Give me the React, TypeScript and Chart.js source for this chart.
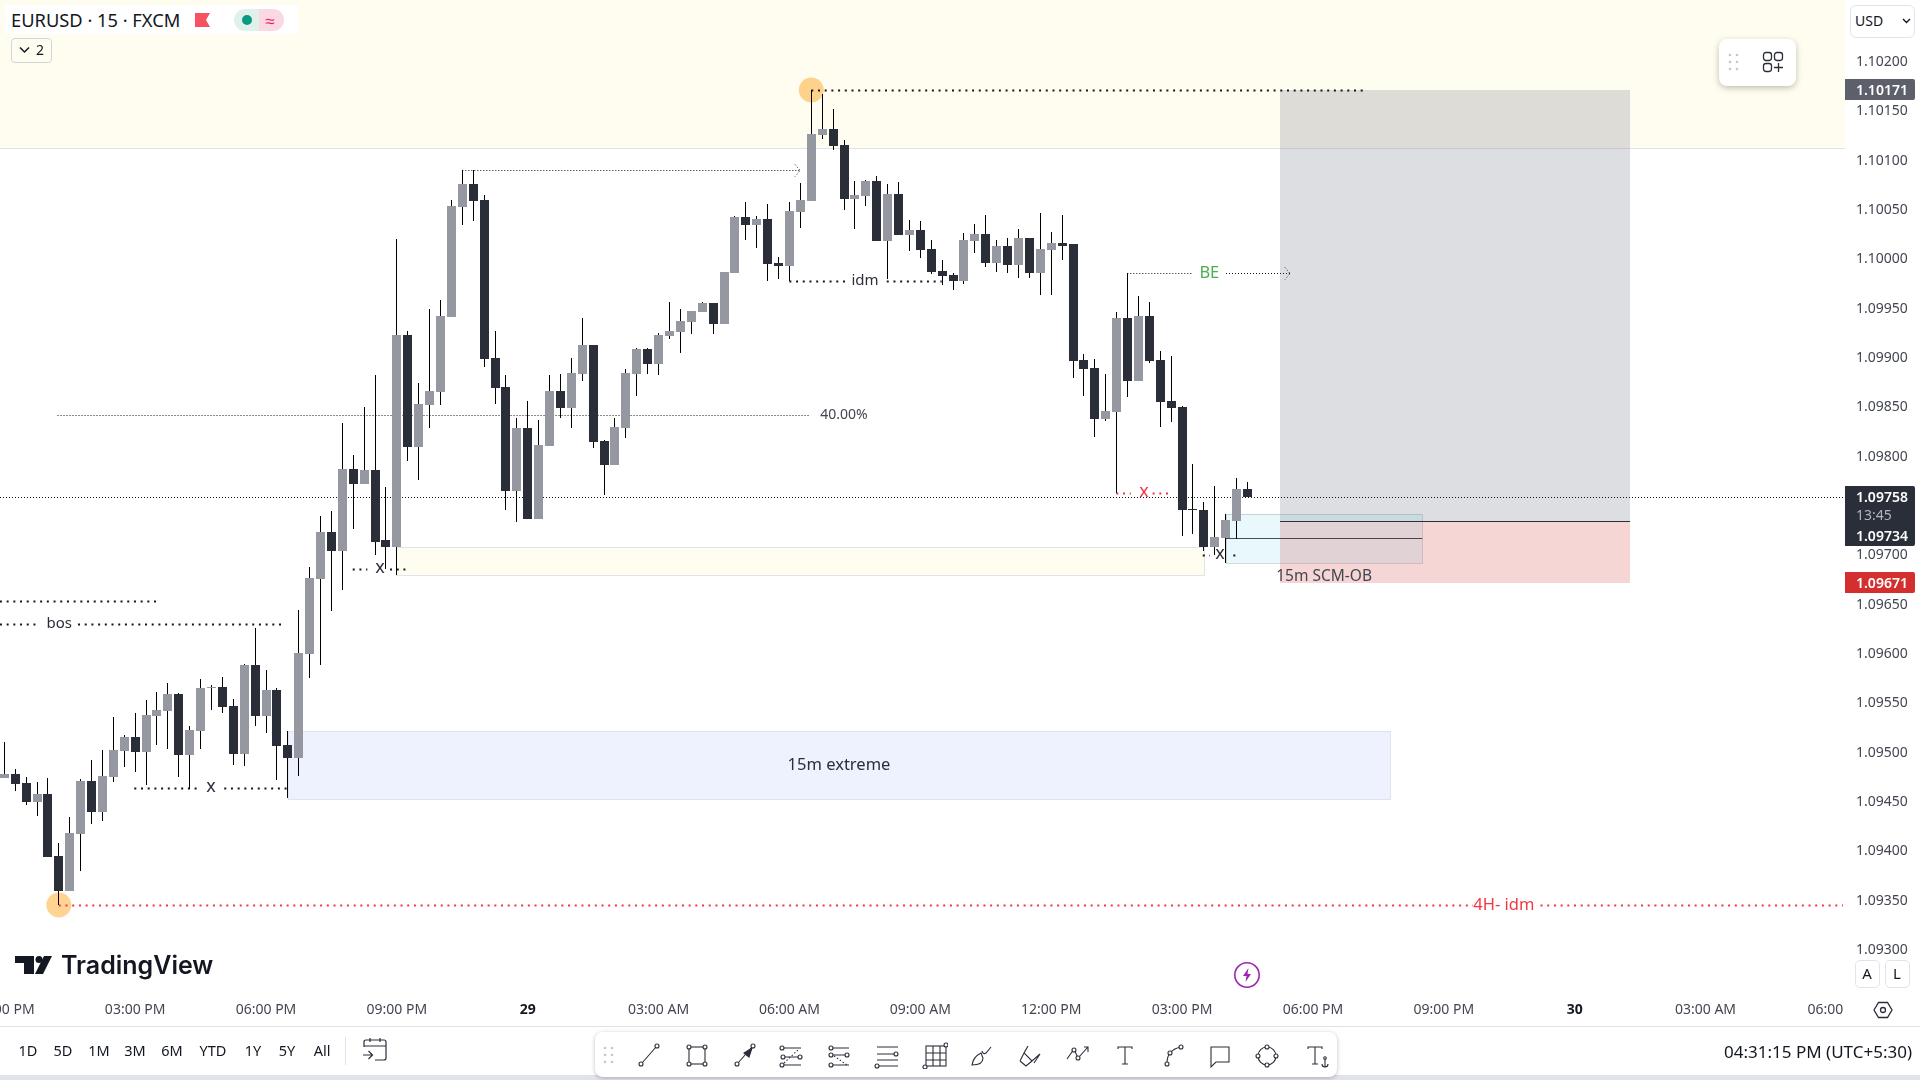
import React, { useEffect, useRef } from "react";
import { Chart, registerables } from "chart.js";

Chart.register(...registerables);

const opens = [
  1.09473,1.09477,1.09468,1.09449,1.09457,1.09394,1.09359,1.09417,1.09470,1.09439,
  1.09474,1.09501,1.09515,1.09500,1.09536,1.09541,1.09558,1.09497,1.09521,1.09564,
  1.09565,1.09546,1.09498,1.09588,1.09536,1.09562,1.09507,1.09494,1.09599,1.09675,
  1.09723,1.09703,1.09786,1.09771,1.09785,1.09714,1.09707,1.09922,1.09809,1.09851,
  1.09865,1.09941,1.10052,1.10075,1.10059,1.09899,1.09870,1.09764,1.09828,1.09736,
  1.09810,1.09866,1.09848,1.09883,1.09912,1.09815,1.09791,1.09828,1.09883,1.09908,
  1.09893,1.09921,1.09925,1.09935,1.09946,1.09955,1.09933,1.09985,1.10042,1.10034,
  1.10040,1.09995,1.09992,1.10047,1.10058,1.10125,1.10131,1.10115,1.10060,1.10063,
  1.10078,1.10018,1.10065,1.10024,1.10029,1.10009,1.09987,1.09983,1.09977,1.10018,
  1.10025,1.09995,1.10012,1.09993,1.10021,1.09985,1.10008,1.10016,1.10014,1.09897,
  1.09889,1.09837,1.09844,1.09940,1.09876,1.09942,1.09897,1.09855,1.09849,1.09746,
  1.09745,1.09707,1.09717,1.09734,1.09766,
];
const highs = [
  1.09510,1.09482,1.09474,1.09469,1.09473,1.09407,1.09434,1.09472,1.09492,1.09502,
  1.09535,1.09517,1.09539,1.09552,1.09560,1.09570,1.09559,1.09526,1.09574,1.09568,
  1.09576,1.09553,1.09589,1.09625,1.09583,1.09564,1.09521,1.09644,1.09687,1.09739,
  1.09744,1.09833,1.09801,1.09849,1.09882,1.09768,1.10020,1.09926,1.09874,1.09949,
  1.09958,1.10059,1.10090,1.10089,1.10064,1.09926,1.09882,1.09838,1.09855,1.09836,
  1.09882,1.09883,1.09899,1.09939,1.09912,1.09816,1.09838,1.09888,1.09909,1.09909,
  1.09924,1.09956,1.09949,1.09947,1.09956,1.09955,1.09986,1.10043,1.10057,1.10043,
  1.10055,1.10001,1.10057,1.10076,1.10171,1.10167,1.10151,1.10120,1.10078,1.10079,
  1.10083,1.10075,1.10077,1.10039,1.10038,1.10019,1.09998,1.09985,1.10026,1.10035,
  1.10044,1.10019,1.10021,1.10030,1.10021,1.10046,1.10027,1.10044,1.10014,1.09903,
  1.09898,1.09883,1.09946,1.09985,1.09962,1.09956,1.09906,1.09901,1.09850,1.09792,
  1.09753,1.09769,1.09741,1.09777,1.09773,
];
const lows = [
  1.09473,1.09460,1.09446,1.09435,1.09393,1.09345,1.09359,1.09379,1.09427,1.09430,
  1.09469,1.09484,1.09479,1.09466,1.09507,1.09503,1.09474,1.09462,1.09503,1.09542,
  1.09539,1.09486,1.09485,1.09526,1.09519,1.09471,1.09453,1.09475,1.09575,1.09588,
  1.09643,1.09664,1.09726,1.09771,1.09699,1.09685,1.09679,1.09795,1.09775,1.09828,
  1.09851,1.09941,1.10034,1.10038,1.09890,1.09852,1.09745,1.09733,1.09736,1.09736,
  1.09810,1.09838,1.09828,1.09876,1.09808,1.09760,1.09790,1.09818,1.09860,1.09883,
  1.09882,1.09918,1.09904,1.09923,1.09946,1.09923,1.09933,1.09985,1.10019,1.10010,
  1.09977,1.09979,1.09977,1.10031,1.10058,1.10121,1.10110,1.10049,1.10030,1.10053,
  1.10018,1.09979,1.10024,1.10007,1.10000,1.09984,1.09973,1.09968,1.09974,1.10005,
  1.09991,1.09986,1.09985,1.09980,1.09980,1.09963,1.09963,1.09998,1.09879,1.09860,
  1.09819,1.09835,1.09762,1.09859,1.09876,1.09894,1.09829,1.09834,1.09719,1.09721,
  1.09703,1.09699,1.09691,1.09715,1.09758,
];
const closes = [
  1.09477,1.09467,1.09449,1.09457,1.09393,1.09359,1.09418,1.09470,1.09439,1.09475,
  1.09502,1.09515,1.09500,1.09537,1.09542,1.09558,1.09497,1.09522,1.09564,1.09565,
  1.09545,1.09498,1.09588,1.09536,1.09562,1.09506,1.09494,1.09600,1.09676,1.09723,
  1.09703,1.09786,1.09771,1.09785,1.09712,1.09707,1.09922,1.09809,1.09852,1.09866,
  1.09942,1.10053,1.10075,1.10058,1.09898,1.09869,1.09764,1.09828,1.09736,1.09811,
  1.09866,1.09848,1.09884,1.09912,1.09814,1.09791,1.09829,1.09884,1.09908,1.09893,
  1.09922,1.09926,1.09936,1.09947,1.09955,1.09933,1.09986,1.10042,1.10034,1.10040,
  1.09994,1.09992,1.10048,1.10059,1.10126,1.10131,1.10114,1.10060,1.10064,1.10078,
  1.10018,1.10065,1.10024,1.10029,1.10008,1.09986,1.09982,1.09977,1.10019,1.10025,
  1.09995,1.10012,1.09993,1.10021,1.09985,1.10009,1.10016,1.10012,1.09896,1.09888,
  1.09837,1.09845,1.09940,1.09876,1.09942,1.09896,1.09854,1.09848,1.09745,1.09745,
  1.09707,1.09718,1.09735,1.09766,1.09758,
];

const priceTicks = [1.093,1.0935,1.094,1.0945,1.095,1.0955,1.096,1.0965,1.097,1.0975,1.098,1.0985,1.099,1.0995,1.1,1.1005,1.101,1.1015,1.102];
const timeTickBars = [0,12,24,36,48,60,72,84,96,108,120,132,144,156,167];
const timeTickLabels = ["12:00 PM","03:00 PM","06:00 PM","09:00 PM","29","03:00 AM","06:00 AM","09:00 AM","12:00 PM","03:00 PM","06:00 PM","09:00 PM","30","03:00 AM","06:00"];
const boldTimeBars = [48,144];

// Drawing tool values, all in [bar index, price]
const topBand = { from: -0.4, to: 168.8, low: 1.10112 };
const targetZone = { from: 116.98, to: 149.08, high: 1.10171, low: 1.09734 };
const stopZone = { from: 116.98, to: 149.08, high: 1.09734, low: 1.09671 };
const boxes = [
  { kind: "yellow", from: 35.95, to: 110.04, high: 1.09707, low: 1.09679 },
  { kind: "blue", from: 25.97, to: 127.07, high: 1.09521, low: 1.09452 },
  { kind: "cyan", from: 112.03, to: 130.03, high: 1.09741, low: 1.09691 },
];
const solidLines = [
  { from: 116.98, to: 149.08, price: 1.09734 },
  { from: 112.03, to: 130.03, price: 1.09717 },
];
const boldDotted = [
  { from: 74, to: 124.78, price: 1.10171, kind: "black" },
  { from: 71.99, to: 77.09, price: 1.09977, kind: "black" },
  { from: 80.92, to: 85.96, price: 1.09977, kind: "black" },
  { from: 101.97, to: 103.3, price: 1.09762, kind: "red" },
  { from: 105.3, to: 106.96, price: 1.09762, kind: "red" },
  { from: 109.9, to: 110.56, price: 1.09699, kind: "black" },
  { from: 112.7, to: 112.95, price: 1.09699, kind: "black" },
  { from: 31.95, to: 33.29, price: 1.09685, kind: "black" },
  { from: 35.37, to: 37.05, price: 1.09685, kind: "black" },
  { from: -0.4, to: 13.98, price: 1.09653, kind: "black" },
  { from: -0.4, to: 3.15, price: 1.09629, kind: "black" },
  { from: 6.76, to: 25.68, price: 1.09629, kind: "black" },
  { from: 11.92, to: 18.04, price: 1.09463, kind: "black" },
  { from: 20.17, to: 25.95, price: 1.09463, kind: "black" },
  { from: 5, to: 134.68, price: 1.09345, kind: "red" },
  { from: 140.87, to: 168.6, price: 1.09345, kind: "red" },
];
const thinDotted = [
  { from: 42, to: 72.97, price: 1.1009, arrow: true },
  { from: 4.88, to: 73.82, price: 1.09841, arrow: false },
  { from: 102.98, to: 108.89, price: 1.09985, arrow: false },
  { from: 112.03, to: 117.9, price: 1.09985, arrow: true },
];
const notes = [
  { text: "bos", bar: 5.04, price: 1.09629, kind: "black" },
  { text: "x", bar: 18.95, price: 1.09463, kind: "black" },
  { text: "x", bar: 34.45, price: 1.09685, kind: "black" },
  { text: "idm", bar: 78.92, price: 1.09977, kind: "black" },
  { text: "40.00%", bar: 77, price: 1.09841, kind: "grey" },
  { text: "BE", bar: 110.5, price: 1.09985, kind: "green" },
  { text: "x", bar: 104.5, price: 1.09762, kind: "red" },
  { text: "x", bar: 111.48, price: 1.09699, kind: "black" },
  { text: "15m SCM-OB", bar: 121.02, price: 1.09677, kind: "grey" },
  { text: "15m extreme", bar: 76.54, price: 1.09486, kind: "black" },
  { text: "4H- idm", bar: 137.5, price: 1.09345, kind: "red" },
];
const markers = [
  { bar: 5, price: 1.09345 },
  { bar: 74, price: 1.10171 },
];
const lastPrice = 1.09758;

const FONT = '"Noto Sans", sans-serif';
const BULL = "#9598a1";
const BEAR = "#2a2e39";
const WICK = "#000000";
const TEXT = "#434651";
const noteSize: any = { x: 18, "40.00%": 14, BE: 16.5, "15m SCM-OB": 15.5, "15m extreme": 16.5, "4H- idm": 16.5 };

const noPadding = (s: any) => {
  s.paddingLeft = 0;
  s.paddingRight = 0;
  s.paddingTop = 0;
  s.paddingBottom = 0;
};

const snapPlugin = {
  id: "snap",
  afterDatasetsUpdate(chart: any) {
    const xs = chart.scales.x;
    chart.data.datasets.forEach((ds: any, d: number) => {
      const wide = ds.label === "Bodies" ? 9 : 1;
      chart.getDatasetMeta(d).data.forEach((el: any, i: number) => {
        const col = Math.floor(xs.getPixelForValue(ds.data[i].x));
        const top = Math.round(Math.min(el.y, el.base));
        const bottom = Math.max(top + 1, Math.round(Math.max(el.y, el.base)));
        el.x = col + 0.5;
        el.width = wide;
        el.y = top;
        el.base = bottom;
        el.height = bottom - top;
      });
    });
  },
};

const drawingPlugin = {
  id: "drawings",
  beforeDatasetsDraw(chart: any) {
    const { ctx, scales, chartArea } = chart;
    const X = (v: number) => scales.x.getPixelForValue(v);
    const Y = (v: number) => Math.round(scales.y.getPixelForValue(v));
    ctx.save();

    // premium band
    ctx.fillStyle = "#fffdf0";
    ctx.fillRect(X(topBand.from), chartArea.top, X(topBand.to) - X(topBand.from), Y(topBand.low));
    ctx.fillStyle = "#e0e3eb";
    ctx.fillRect(X(topBand.from), Y(topBand.low), X(topBand.to) - X(topBand.from), 1);

    // position tool
    ctx.fillStyle = "rgba(120,123,134,0.25)";
    ctx.fillRect(X(targetZone.from), Y(targetZone.high), X(targetZone.to) - X(targetZone.from), Y(targetZone.low) - Y(targetZone.high));
    ctx.fillStyle = "rgba(211,47,47,0.2)";
    ctx.fillRect(X(stopZone.from), Y(stopZone.high), X(stopZone.to) - X(stopZone.from), Y(stopZone.low) - Y(stopZone.high));

    // boxes
    const boxStyle: any = {
      yellow: ["#fffdf0", "#e0e3eb"],
      blue: ["#eef2fe", "#e0e3eb"],
      cyan: ["rgba(0,188,212,0.085)", "rgba(120,123,134,0.3)"],
    };
    boxes.forEach((b) => {
      const x1 = Math.round(X(b.from)), x2 = Math.round(X(b.to));
      const y1 = Y(b.high), y2 = Y(b.low);
      ctx.fillStyle = boxStyle[b.kind][0];
      ctx.fillRect(x1, y1, x2 - x1, y2 - y1);
      ctx.strokeStyle = boxStyle[b.kind][1];
      ctx.lineWidth = 1;
      ctx.strokeRect(x1 + 0.5, y1 + 0.5, x2 - x1, y2 - y1);
    });

    // solid lines
    ctx.lineWidth = 1;
    solidLines.forEach((l, i) => {
      ctx.strokeStyle = i === 0 ? "#2a2e39" : "rgba(42,46,57,0.85)";
      const y = Y(l.price) + 0.5;
      ctx.beginPath();
      ctx.moveTo(X(l.from), y);
      ctx.lineTo(X(l.to), y);
      ctx.stroke();
    });

    // orange markers
    markers.forEach((m) => {
      ctx.fillStyle = "rgba(255,167,38,0.5)";
      ctx.beginPath();
      ctx.arc(X(m.bar), Y(m.price), 12.5, 0, Math.PI * 2);
      ctx.fill();
    });

    // last price line
    ctx.setLineDash([1, 2]);
    ctx.lineWidth = 1;
    ctx.strokeStyle = "#131722";
    const ly = Y(lastPrice) + 0.5;
    ctx.beginPath();
    ctx.moveTo(chartArea.left, ly);
    ctx.lineTo(chartArea.right, ly);
    ctx.stroke();

    // thin dotted rays
    thinDotted.forEach((l) => {
      const y = Y(l.price) + 0.5;
      const x2 = X(l.to);
      ctx.strokeStyle = "#131722";
      ctx.beginPath();
      ctx.moveTo(X(l.from), y);
      ctx.lineTo(x2, y);
      if (l.arrow) {
        ctx.moveTo(x2 - 5, y - 6);
        ctx.lineTo(x2, y);
        ctx.lineTo(x2 - 5, y + 6);
      }
      ctx.stroke();
    });

    // bold dotted lines
    ctx.setLineDash([2, 4.7]);
    ctx.lineWidth = 2;
    boldDotted.forEach((l) => {
      const y = Y(l.price) + 0.5;
      ctx.strokeStyle = l.kind === "red" ? "#f23645" : "#131722";
      ctx.beginPath();
      ctx.moveTo(X(l.from), y);
      ctx.lineTo(X(l.to), y);
      ctx.stroke();
    });
    ctx.setLineDash([]);

    // notes
    const noteColor: any = { black: "#2a2e39", grey: TEXT, green: "#4caf50", red: "#f23645" };
    ctx.textAlign = "center";
    ctx.textBaseline = "middle";
    notes.forEach((n) => {
      ctx.fillStyle = noteColor[n.kind];
      ctx.font = `${noteSize[n.text] ?? 15}px ${FONT}`;
      ctx.fillText(n.text, X(n.bar), Y(n.price) - (n.text === "x" ? 1 : 0));
    });
    ctx.restore();
  },
  afterDraw(chart: any) {
    const { ctx, scales } = chart;
    const Y = (v: number) => Math.round(scales.y.getPixelForValue(v));
    const tag = (y1: number, y2: number, bg: string) => {
      ctx.fillStyle = bg;
      ctx.beginPath();
      ctx.roundRect(1845, y1, 70, y2 - y1, [0, 2, 2, 0]);
      ctx.fill();
    };
    ctx.save();
    ctx.textAlign = "left";
    ctx.textBaseline = "middle";
    const label = (t: string, y: number, c: string, w = "600") => {
      ctx.fillStyle = c;
      ctx.font = `${w} 14px ${FONT}`;
      ctx.fillText(t, 1856, y);
    };
    const high = highs[74];
    tag(Y(high) - 11, Y(high) + 10, "#5d606b");
    label(high.toFixed(5), Y(high) + 1, "#ffffff");
    const last = closes[closes.length - 1];
    tag(Y(last) - 11, Y(last) + 49, "#2a2e39");
    label(last.toFixed(5), Y(last) + 1, "#ffffff");
    label("13:45", Y(last) + 19, "#b2b5be", "400");
    label((1.09734).toFixed(5), Y(last) + 40, "#ffffff");
    const stop = stopZone.low;
    tag(Y(stop) - 11, Y(stop) + 10, "#d32f2f");
    label(stop.toFixed(5), Y(stop) + 1, "#ffffff");
    ctx.restore();
  },
};

const Txt = ({ x, y, size = 14, color = "#131722", weight = 400, align = "center", family = FONT, children }: any) => (
  <div
    style={{
      position: "absolute",
      left: x,
      top: y,
      transform: `translate(${align === "center" ? "-50%" : align === "right" ? "-100%" : "0"},-50%)`,
      font: `${weight} ${size}px ${family}`,
      lineHeight: 1,
      color,
      whiteSpace: "nowrap",
    }}
  >
    {children}
  </div>
);

const Ico = ({ x, y, size = 28, children }: any) => (
  <svg
    width={size}
    height={size}
    viewBox="0 0 28 28"
    style={{ position: "absolute", left: x - size / 2, top: y - size / 2 }}
    fill="none"
    stroke="#2a2e39"
    strokeWidth={1.1}
  >
    {children}
  </svg>
);

const Dot = ({ x, y }: any) => <circle cx={x} cy={y} r={2} fill="#fff" />;
const Dots = ({ x, y }: any) => (
  <svg width="14" height="18" style={{ position: "absolute", left: x - 7, top: y - 9 }}>
    {[2, 9, 16].map((cy) => [3, 10].map((cx) => <circle key={`${cx}-${cy}`} cx={cx} cy={cy} r="1.3" fill="#c4c7d1" />))}
  </svg>
);

const toolIcons: any[] = [
  <><path d="M7 22 21 6" /><Dot x={6} y={23} /><Dot x={22} y={5} /></>,
  <><rect x="6" y="6" width="16" height="17" /><Dot x={6} y={6} /><Dot x={22} y={6} /><Dot x={6} y={23} /><Dot x={22} y={23} /></>,
  <><path d="M7 22 21 6" /><path d="M21 7 18 16 13 12Z" fill="#2a2e39" /><Dot x={6} y={23} /><Dot x={22} y={5} /></>,
  <><path d="M5 7H24M7 16H22M5 24H24" /><path d="M7 22 22 8" strokeDasharray="1.5 2" /><Dot x={5} y={7} /><Dot x={6} y={16} /><Dot x={23} y={16} /><Dot x={5} y={24} /></>,
  <><path d="M7 7H24M7 14H22M7 24H24" /><path d="M9 15 22 24" strokeDasharray="1.5 2" /><Dot x={6} y={7} /><Dot x={6} y={14} /><Dot x={22} y={14} /><Dot x={6} y={24} /></>,
  <><path d="M4 6H25M4 13H22M4 19H25M4 25H25" /><Dot x={23} y={13} /><Dot x={4} y={25} /></>,
  <><rect x="6" y="5" width="20" height="20" /><path d="M13 5V25M20 5V25M6 12H26M6 19H26" /><Dot x={26} y={4} /><Dot x={5} y={26} /></>,
  <><path d="M4 24C5 17 9 14 13 12L15 17C15 22 11 24 4 24Z" /><path d="M14 10C15 13 16 13 18 12L23 6" /></>,
  <><path d="M12 5 8 12 16 20 24 13 18 22M4 20 8 12M4 20 10 25 16 20" /></>,
  <><path d="M3 18 10 8 14 17 24 6M20 6H24V11" /><Dot x={10} y={9} /><Dot x={14} y={17} /></>,
  <><path d="M7 8V6H21V8M14 6V23M11 23H17" /></>,
  <><path d="M8 22C8 14 12 8 22 6" /><Dot x={8} y={23} /><Dot x={11} y={12} /><Dot x={22} y={6} /></>,
  <><path d="M5 6H23V21H10L5 26Z" /></>,
  <><circle cx="14" cy="15" r="9" /><Dot x={14} y={6} /><Dot x={5} y={15} /><Dot x={23} y={15} /><Dot x={14} y={24} /></>,
  <><path d="M4 8V6H18V8M11 6V23M8 23H14" /><circle cx="21" cy="17" r="1.3" /><path d="M21 18V26M18 23C18 25 19 26 21 26 23 26 24 25 24 23" /></>,
];
const toolX = [649, 697, 744.5, 791, 839, 886.5, 934, 982, 1030, 1077.6, 1125, 1173, 1220, 1267, 1317.5];
const ranges = [["1D",28],["5D",63],["1M",99],["3M",135],["6M",172],["YTD",213],["1Y",253],["5Y",287],["All",322]] as const;

export default function App() {
  const ref = useRef<HTMLCanvasElement | null>(null);

  useEffect(() => {
    document.body.style.margin = "0";
    const chart = new Chart(ref.current as HTMLCanvasElement, {
      type: "bar",
      data: {
        datasets: [
          {
            label: "Wicks",
            data: highs.map((h, i) => ({ x: i, y: [lows[i], h] })),
            backgroundColor: WICK,
            barThickness: 1,
            grouped: false,
            inflateAmount: 0,
            order: 2,
          },
          {
            label: "Bodies",
            data: opens.map((o, i) => ({ x: i, y: [Math.min(o, closes[i]), Math.max(o, closes[i])] })),
            backgroundColor: opens.map((o, i) => (closes[i] >= o ? BULL : BEAR)),
            barThickness: 9,
            grouped: false,
            inflateAmount: 0,
            order: 1,
          },
        ] as any,
      },
      options: {
        animation: false,
        responsive: false,
        maintainAspectRatio: false,
        events: [],
        layout: { autoPadding: false, padding: 0 },
        plugins: { legend: { display: false }, tooltip: { enabled: false }, title: { display: false } },
        scales: {
          x: {
            type: "linear",
            position: "bottom",
            min: -0.3943,
            max: 168.79,
            offset: false,
            grid: { display: false, drawTicks: false },
            border: { display: false },
            afterFit: (s: any) => { s.height = 90; noPadding(s); },
            afterBuildTicks: (s: any) => { s.ticks = timeTickBars.map((value) => ({ value })); },
            ticks: {
              autoSkip: false,
              maxRotation: 0,
              minRotation: 0,
              includeBounds: false,
              padding: 12,
              color: (c: any) => (boldTimeBars.includes(c.tick?.value) ? "#131722" : "#434651"),
              font: (c: any) => ({ family: FONT, size: 14, weight: boldTimeBars.includes(c.tick?.value) ? 700 : 400 }),
              callback: (_v: any, i: number) => timeTickLabels[i],
            },
          },
          y: {
            type: "linear",
            position: "right",
            min: 1.092584,
            max: 1.102618,
            grid: { display: false, drawTicks: false },
            border: { display: false },
            afterFit: (s: any) => { s.width = 75; noPadding(s); },
            afterBuildTicks: (s: any) => { s.ticks = priceTicks.map((value) => ({ value })); },
            ticks: {
              autoSkip: false,
              padding: 11,
              labelOffset: 1,
              color: "#434651",
              font: { family: FONT, size: 14 },
              callback: (v: any) => Number(v).toFixed(5),
            },
          },
        },
      } as any,
      plugins: [snapPlugin, drawingPlugin],
    });
    return () => chart.destroy();
  }, []);

  return (
    <div style={{ position: "absolute", left: 0, top: 0, width: 1920, height: 1080, overflow: "hidden", background: "#fff" }}>
      <canvas ref={ref} width={1920} height={1080} style={{ position: "absolute", left: 0, top: 0, display: "block" }} />

      {/* Legend */}
      <div style={{ position: "absolute", left: 5, top: 5, width: 293, height: 29, background: "#fff" }} />
      <Txt x={11} y={20} size={18.3} align="left">EURUSD · 15 · FXCM</Txt>
      <svg width="16" height="16" style={{ position: "absolute", left: 195, top: 12 }}>
        <path d="M0 1H15L11 8 15 15H0Z" fill="#f7525f" />
      </svg>
      <div style={{ position: "absolute", left: 234, top: 9, width: 25, height: 22, background: "#dff1ea", borderRadius: "11px 0 0 11px" }} />
      <div style={{ position: "absolute", left: 259, top: 9, width: 25, height: 22, background: "#fbd8e2", borderRadius: "0 11px 11px 0" }} />
      <div style={{ position: "absolute", left: 242, top: 15, width: 10, height: 10, background: "#089981", borderRadius: "50%" }} />
      <Txt x={270} y={20} size={17} color="#e91e63">≈</Txt>
      <div style={{ position: "absolute", left: 11, top: 38, width: 39, height: 23, border: "1px solid #d1d4dc", borderRadius: 4 }} />
      <svg width="12" height="8" style={{ position: "absolute", left: 19, top: 46 }}>
        <path d="M1 1.5 5.5 6 10 1.5" fill="none" stroke="#131722" strokeWidth="1.5" />
      </svg>
      <Txt x={40} y={50} size={14}>2</Txt>

      {/* Price axis widgets */}
      <div style={{ position: "absolute", left: 1850, top: 5, width: 63, height: 31, border: "1px solid #e0e3eb", borderRadius: 6, background: "#fff" }} />
      <Txt x={1855} y={21} size={14} align="left">USD</Txt>
      <svg width="10" height="7" style={{ position: "absolute", left: 1902, top: 18 }}>
        <path d="M1 1 4.5 4.5 8 1" fill="none" stroke="#131722" strokeWidth="1.4" />
      </svg>
      <div style={{ position: "absolute", left: 1719, top: 39, width: 77, height: 47, background: "#fff", borderRadius: 8, boxShadow: "0 2px 6px rgba(0,0,0,0.25)" }} />
      <Dots x={1734} y={62} />
      <svg width="22" height="22" style={{ position: "absolute", left: 1762, top: 51 }} fill="none" stroke="#2a2e39" strokeWidth="1.3">
        <rect x="1.5" y="1.5" width="8" height="8" rx="2.4" />
        <rect x="12.5" y="1.5" width="8" height="8" rx="2.4" />
        <rect x="1.5" y="12.5" width="8" height="8" rx="2.4" />
        <path d="M16.5 12V21M12 16.5H21" />
      </svg>

      {/* Logo */}
      <svg width="40" height="20" style={{ position: "absolute", left: 14, top: 955 }} fill="#131722">
        <path d="M1 1H20V19H10V8H1Z" />
        <circle cx="25" cy="4.5" r="3.5" />
        <path d="M30 1H38L29 19H21Z" />
      </svg>
      <Txt x={61} y={965} size={25} weight={600} align="left" family='Inter, sans-serif'>TradingView</Txt>

      {/* Lightning */}
      <svg width="28" height="28" style={{ position: "absolute", left: 1233, top: 961 }} fill="none">
        <circle cx="14" cy="14" r="12.2" stroke="#9c27b0" strokeWidth="1.6" />
        <path d="M15.5 7 10 15H13.5L12.5 21 18 13H14.5Z" fill="#9c27b0" />
      </svg>

      {/* A / L / gear */}
      <div style={{ position: "absolute", left: 1855, top: 960, width: 23, height: 26, border: "1px solid #e0e3eb", borderRadius: 5 }} />
      <div style={{ position: "absolute", left: 1885, top: 960, width: 23, height: 26, border: "1px solid #e0e3eb", borderRadius: 5 }} />
      <Txt x={1867} y={973} size={15}>A</Txt>
      <Txt x={1897} y={973} size={15}>L</Txt>
      <svg width="20" height="18" style={{ position: "absolute", left: 1873, top: 1001 }} fill="none" stroke="#2a2e39" strokeWidth="1.3">
        <path d="M1 9 5.5 1.5H14.5L19 9 14.5 16.5H5.5Z" />
        <circle cx="10" cy="9" r="2.5" />
      </svg>

      {/* Bottom bar */}
      <div style={{ position: "absolute", left: 0, top: 1026, width: 1920, height: 1, background: "#e0e3eb" }} />
      <div style={{ position: "absolute", left: 0, top: 1075, width: 1920, height: 5, background: "#e0e3eb" }} />
      {ranges.map(([t, x]) => (
        <Txt key={t} x={x} y={1050} size={14.5}>{t}</Txt>
      ))}
      <div style={{ position: "absolute", left: 345, top: 1037, width: 1, height: 28, background: "#e0e3eb" }} />
      <svg width="26" height="26" style={{ position: "absolute", left: 362, top: 1037 }} fill="none" stroke="#2a2e39" strokeWidth="1.2">
        <path d="M2 10V5Q2 3 4 3H22Q24 3 24 5V21Q24 23 22 23H13M2 9H24M8 1V5M18 1V5M1 18H10M6.5 14 10.5 18 6.5 22" />
      </svg>
      <Txt x={1912} y={1051} size={17} align="right">04:31:15 PM (UTC+5:30)</Txt>

      {/* Drawing toolbar */}
      <div style={{ position: "absolute", left: 595, top: 1032, width: 742, height: 45, background: "#fff", borderRadius: 8, boxShadow: "0 1px 4px rgba(0,0,0,0.25)" }} />
      <Dots x={609} y={1055} />
      {toolIcons.map((icon, i) => (
        <Ico key={i} x={toolX[i]} y={1055}>{icon}</Ico>
      ))}
    </div>
  );
}
